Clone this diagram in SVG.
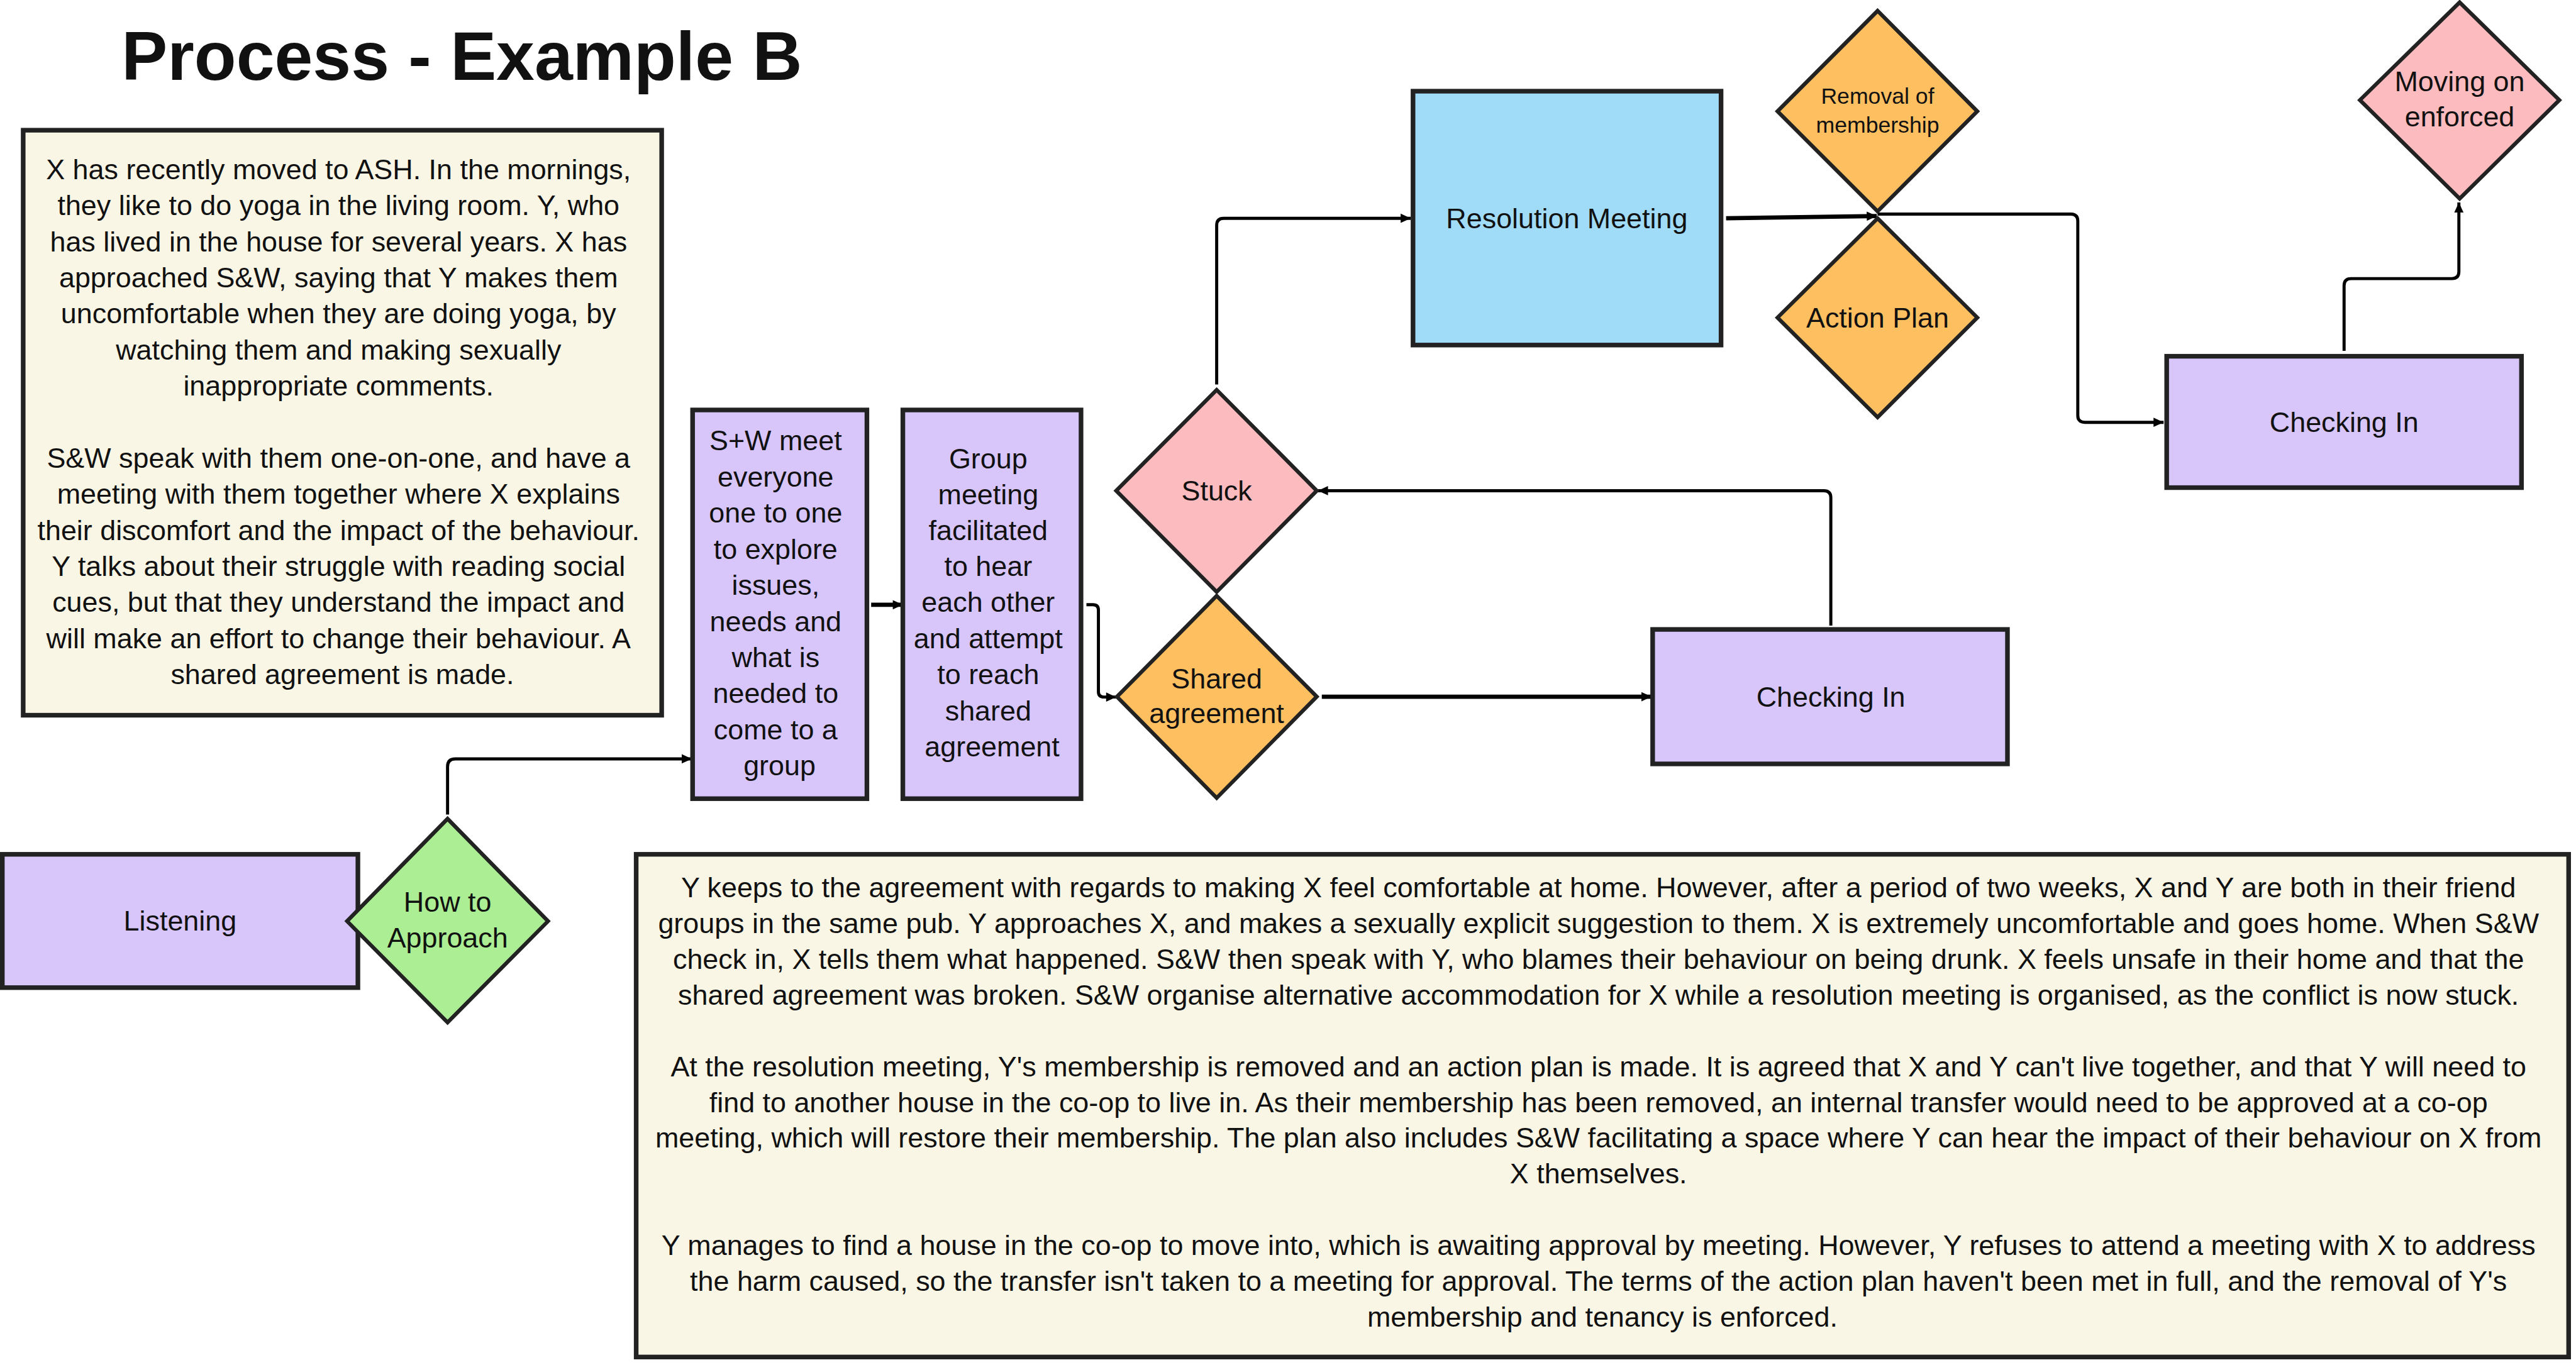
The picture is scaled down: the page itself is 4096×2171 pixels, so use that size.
<svg xmlns="http://www.w3.org/2000/svg" width="4096" height="2171" viewBox="0 0 4096 2171">
<defs>
<style>
text{font-family:"Liberation Sans",Arial,sans-serif;fill:#111;}
.t{font-size:73px;text-anchor:middle;}
.ts{font-size:58px;text-anchor:middle;}
.title{font-size:178px;font-weight:bold;text-anchor:middle;}
.node{stroke:#222;stroke-width:12;}
.dia{stroke:#222;stroke-width:10;stroke-linejoin:miter;}
.purple{fill:#D8C6FB;}
.pink{fill:#FCBBBE;}
.orange{fill:#FDBF60;}
.green{fill:#ACEE93;}
.blue{fill:#A0DBF8;}
.cream{fill:#F9F6E6;}
.conn{fill:none;stroke:#000;stroke-width:8;}
.thick{stroke-width:11;}
</style>
<marker id="arr" markerUnits="userSpaceOnUse" markerWidth="30" markerHeight="30" viewBox="0 0 30 30" refX="28" refY="15" orient="auto">
<path d="M2,3 L28,15 L2,27 Z" fill="#000"/>
</marker>
</defs>
<rect width="4096" height="2171" fill="#fff"/>
<g transform="scale(0.61455)">
<g id="title"><text class="title" x="1195" y="206">Process - Example B</text></g>

<g id="story-intro">
<rect class="node cream" x="60" y="337" width="1652" height="1514" stroke-width="14"/>
<text class="t">
<tspan x="886" y="464">X has recently moved to ASH. In the mornings,</tspan>
<tspan x="886" y="557">they like to do yoga in the living room. Y, who</tspan>
<tspan x="886" y="651">has lived in the house for several years. X has</tspan>
<tspan x="886" y="744">approached S&amp;W, saying that Y makes them</tspan>
<tspan x="886" y="837">uncomfortable when they are doing yoga, by</tspan>
<tspan x="886" y="931">watching them and making sexually</tspan>
<tspan x="886" y="1024">inappropriate comments.</tspan>
<tspan x="886" y="1210">S&amp;W speak with them one-on-one, and have a</tspan>
<tspan x="886" y="1304">meeting with them together where X explains</tspan>
<tspan x="886" y="1397">their discomfort and the impact of the behaviour.</tspan>
<tspan x="886" y="1490">Y talks about their struggle with reading social</tspan>
<tspan x="886" y="1584">cues, but that they understand the impact and</tspan>
<tspan x="886" y="1677">will make an effort to change their behaviour. A</tspan>
<tspan x="886" y="1770">shared agreement is made.</tspan>
</text>
</g>

<g id="story-outcome">
<rect class="node cream" x="1646" y="2211" width="5000" height="1301" stroke-width="14"/>
<text class="t">
<tspan x="4146" y="2322">Y keeps to the agreement with regards to making X feel comfortable at home. However, after a period of two weeks, X and Y are both in their friend</tspan>
<tspan x="4146" y="2415">groups in the same pub. Y approaches X, and makes a sexually explicit suggestion to them. X is extremely uncomfortable and goes home. When S&amp;W</tspan>
<tspan x="4146" y="2507">check in, X tells them what happened. S&amp;W then speak with Y, who blames their behaviour on being drunk. X feels unsafe in their home and that the</tspan>
<tspan x="4146" y="2600">shared agreement was broken. S&amp;W organise alternative accommodation for X while a resolution meeting is organised, as the conflict is now stuck.</tspan>
<tspan x="4146" y="2785">At the resolution meeting, Y's membership is removed and an action plan is made. It is agreed that X and Y can't live together, and that Y will need to</tspan>
<tspan x="4146" y="2878">find to another house in the co-op to live in. As their membership has been removed, an internal transfer would need to be approved at a co-op</tspan>
<tspan x="4146" y="2970">meeting, which will restore their membership. The plan also includes S&amp;W facilitating a space where Y can hear the impact of their behaviour on X from</tspan>
<tspan x="4146" y="3063">X themselves.</tspan>
<tspan x="4146" y="3248">Y manages to find a house in the co-op to move into, which is awaiting approval by meeting. However, Y refuses to attend a meeting with X to address</tspan>
<tspan x="4146" y="3341">the harm caused, so the transfer isn't taken to a meeting for approval. The terms of the action plan haven't been met in full, and the removal of Y's</tspan>
<tspan x="4146" y="3433">membership and tenancy is enforced.</tspan>
</text>
</g>

<g id="connectors">
<path class="conn" d="M1158,2108 V1984 Q1158,1964 1178,1964 H1790" marker-end="url(#arr)"/>
<path class="conn thick" d="M2254,1565 H2336" marker-end="url(#arr)"/>
<path class="conn" d="M2811,1565 H2828 Q2842,1565 2842,1579 V1790 Q2842,1804 2856,1804 H2888" marker-end="url(#arr)"/>
<path class="conn thick" d="M3420,1803 H4273" marker-end="url(#arr)"/>
<path class="conn" d="M4737,1619 V1288 Q4737,1270 4719,1270 H3410" marker-end="url(#arr)"/>
<path class="conn" d="M3148,995 V583 Q3148,565 3166,565 H3650" marker-end="url(#arr)"/>
<path class="conn thick" d="M4466,565 L4856,559" marker-end="url(#arr)"/>
<path class="conn" d="M4858,554 H5358 Q5376,554 5376,572 V1075 Q5376,1093 5394,1093 H5598" marker-end="url(#arr)"/>
<path class="conn" d="M6065,908 V739 Q6065,721 6083,721 H6344 Q6362,721 6362,703 V524" marker-end="url(#arr)"/>
</g>

<g id="listening">
<rect class="node purple" x="6" y="2211" width="920" height="345"/>
<text class="t" x="466" y="2409">Listening</text>
</g>

<g id="how-to-approach">
<polygon class="dia green" points="1158,2119 1418,2384 1158,2646 898,2384"/>
<text class="t"><tspan x="1158" y="2360">How to</tspan><tspan x="1158" y="2453">Approach</tspan></text>
</g>

<g id="sw-meet">
<rect class="node purple" x="1792" y="1061" width="451" height="1006"/>
<text class="t">
<tspan x="2017" y="1165">S+W meet</tspan>
<tspan x="2017" y="1259">everyone</tspan>
<tspan x="2017" y="1352">one to one</tspan>
<tspan x="2017" y="1446">to explore</tspan>
<tspan x="2017" y="1539">issues,</tspan>
<tspan x="2017" y="1633">needs and</tspan>
<tspan x="2017" y="1726">what is</tspan>
<tspan x="2017" y="1820">needed to</tspan>
<tspan x="2017" y="1913">come to a</tspan>
<tspan x="2017" y="2006">group</tspan>
</text>
</g>

<g id="group-meeting">
<rect class="node purple" x="2336" y="1061" width="461" height="1006"/>
<text class="t">
<tspan x="2567" y="1212">Group</tspan>
<tspan x="2567" y="1305">meeting</tspan>
<tspan x="2567" y="1398">facilitated</tspan>
<tspan x="2567" y="1491">to hear</tspan>
<tspan x="2567" y="1584">each other</tspan>
<tspan x="2567" y="1677">and attempt</tspan>
<tspan x="2567" y="1771">to reach</tspan>
<tspan x="2567" y="1864">shared</tspan>
<tspan x="2567" y="1957">agreement</tspan>
</text>
</g>

<g id="stuck">
<polygon class="dia pink" points="3148,1009 3407,1270 3148,1532 2888,1270"/>
<text class="t" x="3148" y="1296">Stuck</text>
</g>

<g id="shared-agreement">
<polygon class="dia orange" points="3148,1542 3407,1803 3148,2065 2890,1803"/>
<text class="t"><tspan x="3148" y="1781">Shared</tspan><tspan x="3148" y="1872">agreement</tspan></text>
</g>

<g id="checking-in-1">
<rect class="node purple" x="4276" y="1629" width="918" height="348"/>
<text class="t" x="4737" y="1829">Checking In</text>
</g>

<g id="resolution-meeting">
<rect class="node blue" x="3656" y="236" width="797" height="657"/>
<text class="t" x="4054" y="591">Resolution Meeting</text>
</g>

<g id="removal-of-membership">
<polygon class="dia orange" points="4858,28 5116,288 4858,547 4599,288"/>
<text class="ts"><tspan x="4858" y="268">Removal of</tspan><tspan x="4858" y="344">membership</tspan></text>
</g>

<g id="action-plan">
<polygon class="dia orange" points="4858,565 5116,822 4858,1080 4599,822"/>
<text class="t" x="4858" y="848">Action Plan</text>
</g>

<g id="checking-in-2">
<rect class="node purple" x="5606" y="922" width="918" height="340"/>
<text class="t" x="6065" y="1118">Checking In</text>
</g>

<g id="moving-on-enforced">
<polygon class="dia pink" points="6364,6 6622,259 6364,514 6106,259"/>
<text class="t"><tspan x="6364" y="236">Moving on</tspan><tspan x="6364" y="327">enforced</tspan></text>
</g>
</g>
</svg>
